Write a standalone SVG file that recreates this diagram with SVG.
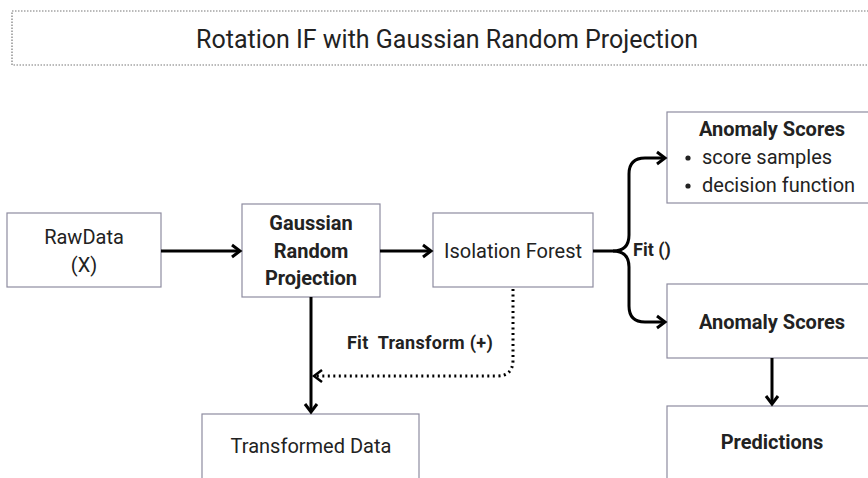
<svg xmlns="http://www.w3.org/2000/svg" width="868" height="478" viewBox="0 0 868 478">
<defs>
<style>
.box{fill:#fff;stroke:#8e8ca0;stroke-width:1.2}
.t{font-family:Roboto,"Liberation Sans",sans-serif;font-size:20px;fill:#222;text-anchor:middle}
.b{font-weight:bold}
.s{text-anchor:start}
.c{fill:none;stroke:#000;stroke-width:3}
.d{fill:none;stroke:#000;stroke-width:3;stroke-dasharray:2 3.5}
</style>
<marker id="ah" markerUnits="userSpaceOnUse" markerWidth="14" markerHeight="16" viewBox="0 0 14 16" refX="11" refY="8" orient="auto">
<path d="M3,2 L11,8 L3,14" fill="none" stroke="#000" stroke-width="3"/>
</marker>
</defs>
<rect width="868" height="478" fill="#fff"/>
<g id="title">
<rect x="12" y="11" width="870" height="54" fill="#fff" stroke="#777" stroke-width="1.2" stroke-dasharray="1.5 1.5"/>
<text class="t" x="447" y="48" style="font-size:25px">Rotation IF with Gaussian Random Projection</text>
</g>
<g id="rawdata">
<rect class="box" x="7" y="213" width="154" height="74"/>
<text class="t" x="84" y="244">RawData</text>
<text class="t" x="84" y="272">(X)</text>
</g>
<g id="grp">
<rect class="box" x="242" y="204" width="138" height="93"/>
<text class="t b" x="311" y="230">Gaussian</text>
<text class="t b" x="311" y="258">Random</text>
<text class="t b" x="311" y="285">Projection</text>
</g>
<g id="iforest">
<rect class="box" x="433" y="213" width="160" height="74"/>
<text class="t" x="513" y="258">Isolation Forest</text>
</g>
<g id="scores1">
<rect class="box" x="667" y="112" width="210" height="91"/>
<text class="t b" x="772" y="136">Anomaly Scores</text>
<circle cx="688" cy="158" r="2.6" fill="#222"/>
<text class="t s" x="702" y="164">score samples</text>
<circle cx="688" cy="186" r="2.6" fill="#222"/>
<text class="t s" x="702" y="192">decision function</text>
</g>
<g id="scores2">
<rect class="box" x="667" y="284" width="210" height="74"/>
<text class="t b" x="772" y="329">Anomaly Scores</text>
</g>
<g id="predictions">
<rect class="box" x="667" y="406" width="210" height="80"/>
<text class="t b" x="772" y="449">Predictions</text>
</g>
<g id="transformed">
<rect class="box" x="202" y="414" width="217" height="80"/>
<text class="t" x="311" y="453">Transformed Data</text>
</g>
<g id="connectors">
<path class="c" d="M161,251 H240" marker-end="url(#ah)"/>
<path class="c" d="M380,251 H431" marker-end="url(#ah)"/>
<path class="c" d="M593,251 H613 Q629,251 629,235 V174 Q629,158 645,158 H665" marker-end="url(#ah)"/>
<path class="c" d="M613,251 Q629,251 629,267 V306 Q629,322 645,322 H665" marker-end="url(#ah)"/>
<path class="c" d="M311,297 V412" marker-end="url(#ah)"/>
<path class="c" d="M772,358 V404" marker-end="url(#ah)"/>
<path class="d" d="M513,289 V360 Q513,376 497,376 H316"/>
<path d="M322,370 L314,376 L322,382" fill="none" stroke="#000" stroke-width="2.5"/>
<text class="t b" x="420" y="349" style="font-size:18px;white-space:pre;letter-spacing:0.3px">Fit  Transform (+)</text>
<text class="t b s" x="633" y="256" style="font-size:18px">Fit ()</text>
</g>
</svg>
